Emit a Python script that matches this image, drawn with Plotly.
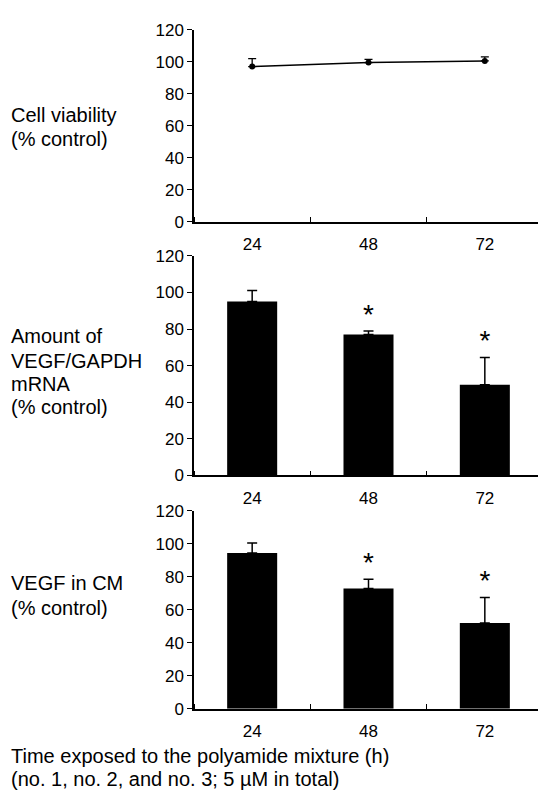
import plotly.graph_objects as go

# ---- data ----
hours = ["24", "48", "72"]
viability = [97, 99.5, 100.5]
viability_err = [5, 2, 2.5]
mrna = [95, 77, 49.5]
mrna_err = [6, 2, 15]
cm = [94.5, 73, 52]
cm_err = [6, 5.5, 15.5]
significant = [False, True, True]
y_ticks = [0, 20, 40, 60, 80, 100, 120]

OFF = 8  # default page body margin
W, H = 546 - OFF, 802 - OFF
FONT = "Liberation Sans, Arial, Helvetica, sans-serif"
xpos = list(range(len(hours)))


def pxx(px):
    return (px - OFF) / W


def pyy(px):
    return 1 - (px - OFF) / H


x_dom = [pxx(194), pxx(543)]
panels = [  # (top px, bottom px) in page pixels
    (21, 218),
    (252.7, 477.7),
    (514, 716.7),
]

fig = go.Figure()

# panel 1: line with markers
fig.add_trace(go.Scatter(
    x=xpos, y=viability, mode="lines+markers",
    line=dict(color="black", width=1.5),
    marker=dict(color="black", size=6),
    error_y=dict(type="data", array=viability_err, arrayminus=[0] * len(viability_err),
                 color="black", thickness=1.3, width=4),
    xaxis="x", yaxis="y", showlegend=False,
))

for i, (vals, errs) in enumerate([(mrna, mrna_err), (cm, cm_err)], start=2):
    fig.add_trace(go.Bar(
        x=xpos, y=vals, width=0.43,
        marker=dict(color="black", line=dict(width=0)),
        error_y=dict(type="data", array=errs, arrayminus=[0] * len(errs),
                     color="black", thickness=1.5, width=5),
        xaxis=f"x{i}", yaxis=f"y{i}", showlegend=False,
    ))
    fig.add_trace(go.Scatter(
        x=xpos, y=[v + e for v, e in zip(vals, errs)], mode="text",
        text=["*" if s else "" for s in significant],
        textposition="top center",
        textfont=dict(family=FONT, size=28, color="black"),
        xaxis=f"x{i}", yaxis=f"y{i}", showlegend=False, hoverinfo="skip",
    ))

axis_common = dict(showline=True, linecolor="black", linewidth=1.5, showgrid=False, zeroline=False)
layout = dict(
    width=W, height=H, margin=dict(l=0, r=0, t=0, b=0),
    paper_bgcolor="white", plot_bgcolor="white",
    font=dict(family=FONT, color="black"),
)
for i, (top, bot) in enumerate(panels, start=1):
    s = "" if i == 1 else str(i)
    layout[f"xaxis{s}"] = dict(
        **axis_common, domain=x_dom, anchor=f"y{s}", range=[-0.5, 2.5],
        tickmode="array", tickvals=xpos, ticktext=hours, ticks="",
        ticklabelstandoff=6, tickfont=dict(size=17),
        minor=dict(ticks="inside", tick0=0.5, dtick=1, ticklen=5, tickcolor="black", tickwidth=1.2, showgrid=False),
    )
    layout[f"yaxis{s}"] = dict(
        **axis_common, domain=[pyy(bot), pyy(top)], anchor=f"x{s}", range=[0, 120],
        tickmode="array", tickvals=y_ticks, ticks="outside", ticklen=5, tickwidth=1.2,
        tickcolor="black", tickfont=dict(size=17),
    )
fig.update_layout(**layout)

labels = [
    ("Cell viability", 108), ("(% control)", 133),
    ("Amount of", 335), ("VEGF/GAPDH", 360), ("mRNA", 384), ("(% control)", 408),
    ("VEGF in CM", 588), ("(% control)", 613),
    ("Time exposed to the polyamide mixture (h)", 765),
    ("(no. 1, no. 2, and no. 3; 5 µM in total)", 789),
]
for txt, ypx in labels:
    fig.add_annotation(text=txt, xref="paper", yref="paper", x=pxx(9), y=pyy(ypx),
                       xanchor="left", yanchor="middle", showarrow=False,
                       font=dict(family=FONT, size=20, color="black"))

fig.write_html("out.html")
